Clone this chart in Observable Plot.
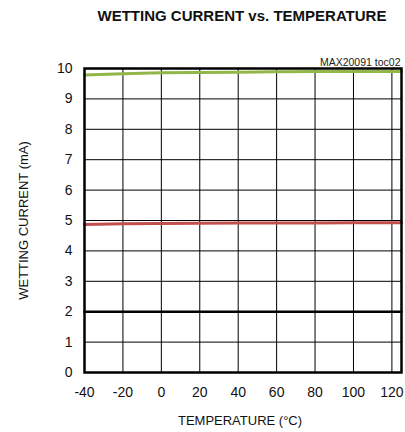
<!DOCTYPE html>
<html>
<head>
<meta charset="utf-8">
<script src="https://cdn.jsdelivr.net/npm/d3@7"></script>
<script src="https://cdn.jsdelivr.net/npm/@observablehq/plot@0.6"></script>
<style>
  html, body { margin: 0; padding: 0; background: #fff; }
  #title {
    width: 405px; height: 30px; box-sizing: border-box;
    padding-left: 79px; text-align: center;
    font-family: "Liberation Sans", Arial, sans-serif; font-weight: bold;
    font-size: 15px; line-height: 32px; color: #111;
  }
</style>
</head>
<body>
<div id="title">WETTING CURRENT vs. TEMPERATURE</div>
<div id="chart"></div>
<script>
const temps = [-40, -20, 0, 20, 40, 60, 80, 100, 125];
const current10mA = [9.79, 9.83, 9.86, 9.87, 9.88, 9.89, 9.9, 9.9, 9.9];
const current5mA = [4.87, 4.89, 4.9, 4.91, 4.92, 4.92, 4.92, 4.93, 4.93];
const current2mA = [2.0, 2.0, 2.0, 2.0, 2.0, 2.0, 2.0, 2.0, 2.0];
const xTicks = [-40, -20, 0, 20, 40, 60, 80, 100, 120];
const yTicks = [0, 1, 2, 3, 4, 5, 6, 7, 8, 9, 10];
const xLabel = "TEMPERATURE (°C)";
const yLabel = "WETTING CURRENT (mA)";
const note = "MAX20091 toc02";

const rows = (vals) => temps.map((t, i) => ({t, v: vals[i]}));

const chart = Plot.plot({
  width: 405,
  height: 402,
  marginTop: 38,
  marginRight: 4,
  marginBottom: 60,
  marginLeft: 84,
  x: {domain: [-40, 125]},
  y: {domain: [0, 10]},
  style: {fontFamily: "'Liberation Sans', Arial, sans-serif", fontSize: "14px", color: "#111", background: "#fff"},
  marks: [
    Plot.gridX(xTicks, {stroke: "#000", strokeOpacity: 1, strokeWidth: 1}),
    Plot.gridY(yTicks, {stroke: "#000", strokeOpacity: 1, strokeWidth: 1}),
    Plot.line(rows(current2mA), {x: "t", y: "v", stroke: "#000", strokeWidth: 2.5}),
    Plot.line(rows(current5mA), {x: "t", y: "v", stroke: "#c0504d", strokeWidth: 3}),
    Plot.line(rows(current10mA), {x: "t", y: "v", stroke: "#92b64a", strokeWidth: 3}),
    Plot.frame({stroke: "#000", strokeWidth: 2.5}),
    Plot.axisX(xTicks, {tickSize: 0, tickPadding: 15, tickFormat: d => String(d), label: null, fontSize: 14}),
    Plot.axisY(yTicks, {tickSize: 0, tickPadding: 12, tickFormat: d => String(d), label: null, fontSize: 14}),
    Plot.text([xLabel], {text: d => d, frameAnchor: "bottom", dy: 48, lineAnchor: "middle", fontSize: 13, dx: -3}),
    Plot.text([yLabel], {text: d => d, frameAnchor: "left", rotate: -90, dx: -61, lineAnchor: "middle", textAnchor: "middle", fontSize: 13}),
    Plot.text([note], {text: d => d, frameAnchor: "top-right", dy: -3, dx: -1, lineAnchor: "bottom", textAnchor: "end", fontSize: 10.5, fill: "#222"})
  ]
});
document.getElementById("chart").appendChild(chart);
</script>
</body>
</html>
